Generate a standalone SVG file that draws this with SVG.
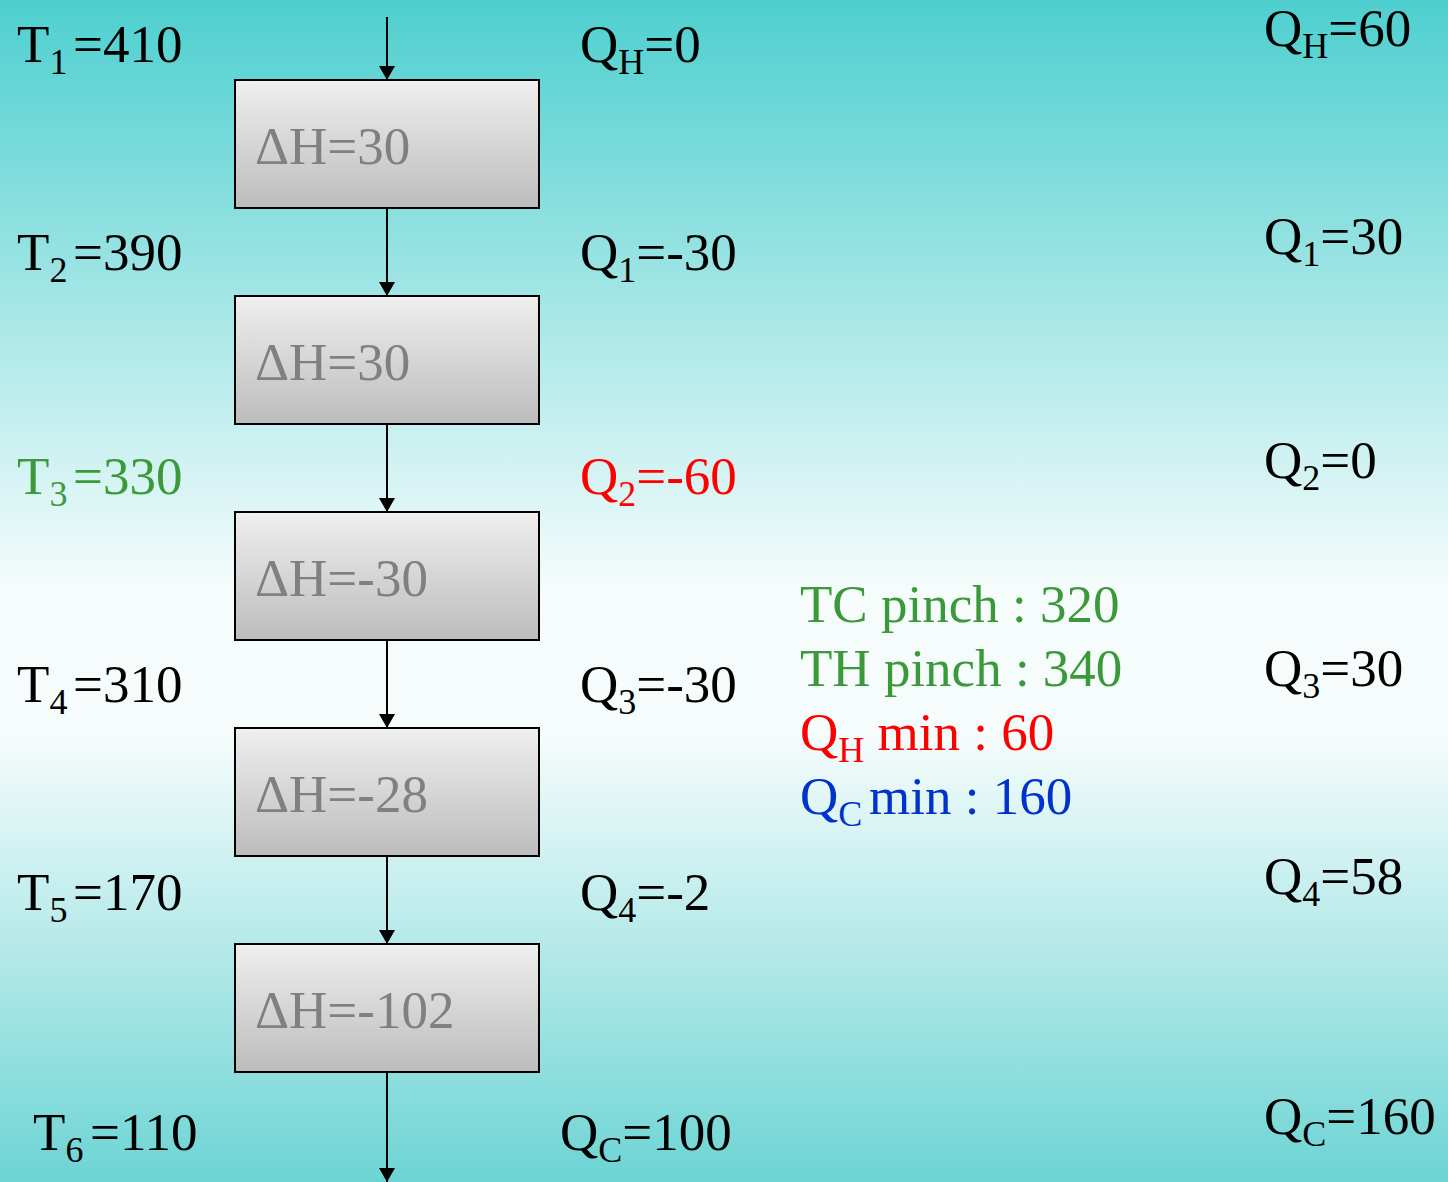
<svg xmlns="http://www.w3.org/2000/svg" width="1448" height="1182" viewBox="0 0 1448 1182">
<defs>
<linearGradient id="bg" x1="0" y1="0" x2="0" y2="1">
<stop offset="0" stop-color="#4ECFCF"/>
<stop offset="0.5" stop-color="#F6FCFC"/>
<stop offset="0.62" stop-color="#F6FCFC"/>
<stop offset="1" stop-color="#6DD4D4"/>
</linearGradient>
<linearGradient id="box" x1="0" y1="0" x2="0" y2="1">
<stop offset="0" stop-color="#EFEFEF"/>
<stop offset="1" stop-color="#BCBCBC"/>
</linearGradient>
<marker id="arr" markerWidth="14" markerHeight="16" refX="14" refY="8" orient="auto" markerUnits="userSpaceOnUse" viewBox="0 0 14 16">
<path d="M0,0 L14,8 L0,16 Z" fill="#000"/>
</marker>
</defs>
<style>
text{font-family:"Liberation Serif","Times New Roman",serif;font-size:53px;fill:#000}
.sub{font-size:36px}
.box{fill:url(#box);stroke:#000;stroke-width:2}
.dh{fill:#808080}
.g{fill:#3A9A3A}
.r{fill:#FF0000}
.b{fill:#0033CC}
.conn line{stroke:#000;stroke-width:2;marker-end:url(#arr)}
</style>
<rect x="0" y="0" width="1448" height="1182" fill="url(#bg)"/>
<g id="connectors" class="conn">
<line x1="387" y1="17" x2="387" y2="80"/>
<line x1="387" y1="208" x2="387" y2="296"/>
<line x1="387" y1="424" x2="387" y2="512"/>
<line x1="387" y1="640" x2="387" y2="728"/>
<line x1="387" y1="856" x2="387" y2="944"/>
<line x1="387" y1="1072" x2="387" y2="1182"/>
</g>
<g id="box1"><rect class="box" x="235" y="80" width="304" height="128"/><text class="dh" x="255" y="164">ΔH=30</text></g>
<g id="box2"><rect class="box" x="235" y="296" width="304" height="128"/><text class="dh" x="255" y="380">ΔH=30</text></g>
<g id="box3"><rect class="box" x="235" y="512" width="304" height="128"/><text class="dh" x="255" y="596">ΔH=-30</text></g>
<g id="box4"><rect class="box" x="235" y="728" width="304" height="128"/><text class="dh" x="255" y="812">ΔH=-28</text></g>
<g id="box5"><rect class="box" x="235" y="944" width="304" height="128"/><text class="dh" x="255" y="1028">ΔH=-102</text></g>
<g id="temps">
<text x="17" y="62">T<tspan class="sub" dy="12">1</tspan><tspan x="73" dy="-12">=410</tspan></text>
<text x="17" y="270">T<tspan class="sub" dy="12">2</tspan><tspan x="73" dy="-12">=390</tspan></text>
<text class="g" x="17" y="494">T<tspan class="sub" dy="12">3</tspan><tspan x="73" dy="-12">=330</tspan></text>
<text x="17" y="702">T<tspan class="sub" dy="12">4</tspan><tspan x="73" dy="-12">=310</tspan></text>
<text x="17" y="910">T<tspan class="sub" dy="12">5</tspan><tspan x="73" dy="-12">=170</tspan></text>
<text x="33" y="1150">T<tspan class="sub" dy="12">6</tspan><tspan x="90" dy="-12">=110</tspan></text>
</g>
<g id="cascade1">
<text x="580" y="62">Q<tspan class="sub" dy="12">H</tspan><tspan dy="-12">=0</tspan></text>
<text x="580" y="270">Q<tspan class="sub" dy="12">1</tspan><tspan dy="-12">=-30</tspan></text>
<text class="r" x="580" y="494">Q<tspan class="sub" dy="12">2</tspan><tspan dy="-12">=-60</tspan></text>
<text x="580" y="702">Q<tspan class="sub" dy="12">3</tspan><tspan dy="-12">=-30</tspan></text>
<text x="580" y="910">Q<tspan class="sub" dy="12">4</tspan><tspan dy="-12">=-2</tspan></text>
<text x="560" y="1150">Q<tspan class="sub" dy="12">C</tspan><tspan dy="-12">=100</tspan></text>
</g>
<g id="summary">
<text class="g" x="800" y="622">TC pinch : 320</text>
<text class="g" x="800" y="686">TH pinch : 340</text>
<text class="r" x="800" y="750">Q<tspan class="sub" dy="12">H</tspan><tspan dy="-12"> min : 60</tspan></text>
<text class="b" x="800" y="814">Q<tspan class="sub" dy="12">C</tspan><tspan x="869" dy="-12">min : 160</tspan></text>
</g>
<g id="cascade2">
<text x="1264" y="46">Q<tspan class="sub" dy="12">H</tspan><tspan dy="-12">=60</tspan></text>
<text x="1264" y="254">Q<tspan class="sub" dy="12">1</tspan><tspan dy="-12">=30</tspan></text>
<text x="1264" y="478">Q<tspan class="sub" dy="12">2</tspan><tspan dy="-12">=0</tspan></text>
<text x="1264" y="686">Q<tspan class="sub" dy="12">3</tspan><tspan dy="-12">=30</tspan></text>
<text x="1264" y="894">Q<tspan class="sub" dy="12">4</tspan><tspan dy="-12">=58</tspan></text>
<text x="1264" y="1134">Q<tspan class="sub" dy="12">C</tspan><tspan dy="-12">=160</tspan></text>
</g>
</svg>
